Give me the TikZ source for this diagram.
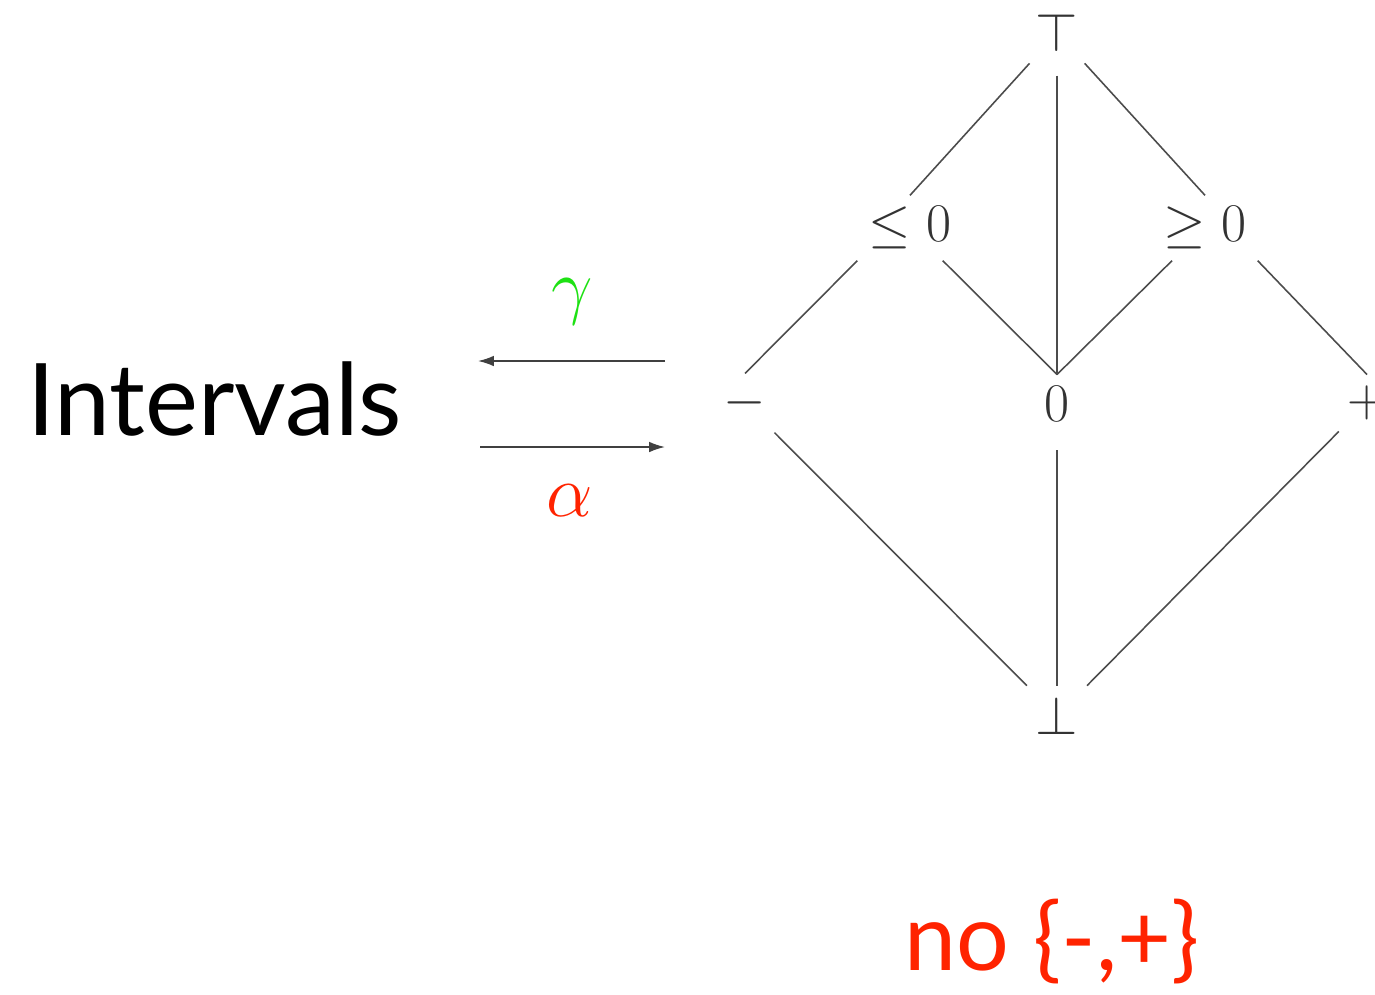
\RequirePackage{fix-cm}
\documentclass[tikz,border=0pt]{standalone}
\usepackage{fontspec}
\usetikzlibrary{arrows.meta}
\newfontfamily\gillfont{Lato}
\definecolor{alphared}{RGB}{255,35,0}
\definecolor{gammagreen}{RGB}{30,225,20}
\begin{document}
\begin{tikzpicture}[
    elem/.style={inner sep=6.5pt, outer sep=0pt, text=black!80, font=\fontsize{31}{31}\selectfont},
    lat/.style={draw=black!70, line width=0.9pt},
    map/.style={draw=black!75, line width=0.9pt, -{Latex[length=9pt, width=6pt]}}
]
        \useasboundingbox (0,0) rectangle (27.5,-19.88);

        % Lattice elements
        \node[elem] (top)   at (21.14,-0.66) {$\top$};
        \node[elem] (le)    at (18.2,-4.56)  {$\leq 0$};
        \node[elem] (ge)    at (24.1,-4.56)  {$\geq 0$};
        \node[elem] (minus) at (14.9,-8.06)  {$-$};
        \node[elem] (zero)  at (21.14,-8.07) {$0$};
        \node[elem] (plus)  at (27.34,-8.06) {$+$};
        \node[elem] (bot)   at (21.14,-14.32) {$\bot$};

        % Order
        \draw[lat] (top) -- (le.north);
        \draw[lat] (top) -- (ge.north);
        \draw[lat, shorten <=7pt] (top) -- (zero.north);
        \draw[lat] (le.south west) -- (minus.north);
        \draw[lat] (le) -- (zero.north);
        \draw[lat] (ge) -- (zero.north);
        \draw[lat] (ge.south east) -- (plus.north);
        \draw[lat] (minus) -- (bot);
        \draw[lat, shorten <=10pt] (zero) -- (bot);
        \draw[lat] (plus) -- (bot);

        % Concrete domain
        \node[anchor=base west, font=\gillfont\fontsize{57}{57}\selectfont] (intervals) at (0.42,-8.7) {Intervals};

        % Galois connection
        \coordinate (g0) at (9.56,-7.22);
        \coordinate (g1) at (13.3,-7.22);
        \coordinate (a0) at (9.6,-8.94);
        \coordinate (a1) at (13.3,-8.94);
        \draw[map] (g1) -- (g0);
        \draw[map] (a0) -- (a1);
        \node[text=gammagreen, font=\fontsize{42}{42}\selectfont] (gamma) at (11.44,-6.04) {$\gamma$};
        \node[text=alphared, font=\fontsize{42}{42}\selectfont] (alpha) at (11.4,-10.02) {$\alpha$};

        % Note
        \node[anchor=base, text=alphared, font=\gillfont\fontsize{53}{53}\selectfont] (note) at (21.04,-19.4) {no \{-,+\}};
\end{tikzpicture}
\end{document}
